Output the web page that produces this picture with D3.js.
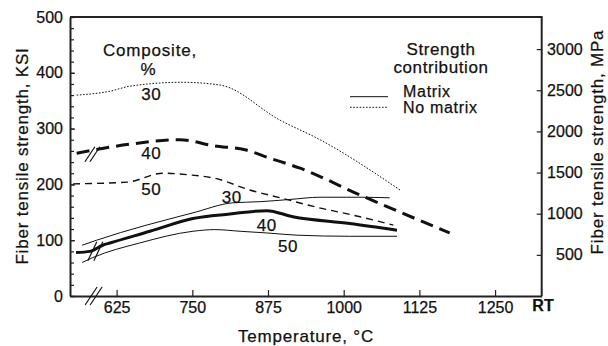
<!DOCTYPE html>
<html>
<head>
<meta charset="utf-8">
<script src="https://cdn.jsdelivr.net/npm/d3@7"></script>
<style>
  body { margin: 0; background: #fff; }
  svg text { font-family: "Liberation Sans", Arial, Helvetica, sans-serif; fill: #111; stroke: #111; stroke-width: 0.25px; }
</style>
</head>
<body>
<svg id="chart" width="608" height="346"></svg>
<script>
// values: temperature (°C) vs fiber tensile strength (KSI)
var tempTicks = [625, 750, 875, 1000, 1125, 1250];
var ksiTicks = [0, 100, 200, 300, 400, 500];
var ksiMinorTicks = d3.range(0, 501, 20);
var mpaTicks = [500, 1000, 1500, 2000, 2500, 3000];

// no matrix contribution
var temp30NoMatrix = [559, 614, 647, 733, 796, 895, 961, 1093];
var ksi30NoMatrix  = [360, 367, 376, 383, 378, 315, 280, 190];
var temp40NoMatrix = [559, 647, 729, 787, 837, 878, 928, 1027, 1175];
var ksi40NoMatrix  = [256, 272, 280, 269, 262, 247, 229, 181, 113];
var temp50NoMatrix = [553, 642, 701, 746, 787, 845, 895, 956, 1027, 1082];
var ksi50NoMatrix  = [201, 204, 220, 217, 211, 190, 176, 159, 142, 127];

// matrix contribution
var temp30Matrix = [568, 592, 751, 817, 862, 911, 961, 1027, 1076];
var ksi30Matrix  = [91, 100, 149, 167, 169, 173, 177, 177, 176];
var temp40Matrix = [558, 581, 602, 614, 680, 751, 812, 873, 916, 1010, 1088];
var ksi40Matrix  = [78, 80, 91, 95, 116, 139, 147, 153, 142, 130, 118];
var temp50Matrix = [568, 586, 663, 751, 787, 829, 873, 923, 1010, 1088];
var ksi50Matrix  = [60, 69, 95, 116, 119, 116, 113, 109, 107, 107];

var series = [
    {name: "30", t: temp30NoMatrix, k: ksi30NoMatrix, width: 1, dash: "1.6,1.6", label: [682, 362]},
    {name: "40", t: temp40NoMatrix, k: ksi40NoMatrix, width: 3, dash: "13,7", label: [682, 256]},
    {name: "50", t: temp50NoMatrix, k: ksi50NoMatrix, width: 1.4, dash: "7,5", label: [682, 192]},
    {name: "30", t: temp30Matrix, k: ksi30Matrix, width: 1, dash: null, label: [815, 177]},
    {name: "40", t: temp40Matrix, k: ksi40Matrix, width: 3, dash: null, label: [873, 128]},
    {name: "50", t: temp50Matrix, k: ksi50Matrix, width: 1, dash: null, label: [908, 89]}
];

function drawChart() {
    var svg = d3.select("#chart");
    var plotLeft = 70, plotRight = 541.7, plotTop = 17, plotBottom = 296;

    var x = d3.scaleLinear().domain([548, 1327]).range([plotLeft, plotRight]);
    var y = d3.scaleLinear().domain([0, 500]).range([plotBottom, plotTop]);
    var yMpa = d3.scaleLinear().domain([0, 3390]).range([plotBottom, plotTop]);

    // minor ticks on KSI axis
    svg.append("g")
        .attr("transform", "translate(" + plotLeft + ",0)")
        .call(d3.axisLeft(y).tickValues(ksiMinorTicks).tickSize(-4).tickFormat(""))
        .call(g => g.select(".domain").remove());

    var yAxis = svg.append("g")
        .attr("transform", "translate(" + plotLeft + ",0)")
        .call(d3.axisLeft(y).tickValues(ksiTicks).tickSize(-5).tickSizeOuter(0).tickPadding(7));
    yAxis.selectAll("text").attr("font-size", 16).attr("fill", "#111");

    var xAxis = svg.append("g")
        .attr("transform", "translate(0," + plotBottom + ")")
        .call(d3.axisBottom(x).tickValues(tempTicks).tickFormat(d3.format("d"))
            .tickSize(-6).tickSizeOuter(0).tickPadding(6));
    xAxis.selectAll("text").attr("font-size", 16).attr("fill", "#111");

    var mpaAxis = svg.append("g")
        .attr("transform", "translate(" + plotRight + ",0)")
        .call(d3.axisRight(yMpa).tickValues(mpaTicks).tickFormat(d3.format("d"))
            .tickSize(-5).tickSizeOuter(0));
    mpaAxis.selectAll("text").attr("font-size", 16).attr("fill", "#111")
        .attr("text-anchor", "end").attr("x", 41);
    mpaAxis.select(".domain").remove();

    svg.selectAll(".tick line").attr("stroke", "#222").attr("stroke-width", 1.2);
    svg.selectAll(".domain").attr("stroke", "#222").attr("stroke-width", 2);

    // frame: top and right edges
    svg.append("path")
        .attr("d", "M" + plotLeft + "," + plotTop + "H" + plotRight + "V" + plotBottom)
        .attr("fill", "none").attr("stroke", "#222").attr("stroke-width", 2);

    // curves
    var line = d3.line().curve(d3.curveMonotoneX);
    svg.append("g").selectAll("path")
        .data(series)
        .join("path")
        .attr("d", s => line(s.t.map((t, i) => [x(t), y(s.k[i])])))
        .attr("fill", "none")
        .attr("stroke", "#111")
        .attr("stroke-width", s => s.width)
        .attr("stroke-dasharray", s => s.dash);

    svg.append("g").selectAll("text")
        .data(series)
        .join("text")
        .attr("x", s => x(s.label[0]))
        .attr("y", s => y(s.label[1]))
        .attr("dy", "0.36em")
        .attr("text-anchor", "middle")
        .attr("font-size", 17)
        .attr("letter-spacing", 0.5)
        .text(s => s.name);

    // axis break marks
    var breaks = [
        {t: 587, k: 0, segs: [[-8.5, 9, 3.5, -9], [-3.5, 9, 8.5, -9]]},
        {t: 585, k: 254, segs: [[-7.5, 7.5, 2.5, -7.5], [-2.5, 7.5, 7.5, -7.5]]},
        {t: 589, k: 81, segs: [[-7, 10, 2, -9], [-1, 10, 8, -9]]}
    ];
    breaks.forEach(function (b) {
        b.segs.forEach(function (s) {
            svg.append("line")
                .attr("x1", x(b.t) + s[0]).attr("y1", y(b.k) + s[1])
                .attr("x2", x(b.t) + s[2]).attr("y2", y(b.k) + s[3])
                .attr("stroke", "#111").attr("stroke-width", 1.2);
        });
    });

    // titles
    svg.append("text")
        .attr("x", 543).attr("y", 311)
        .attr("text-anchor", "middle").attr("font-size", 16).attr("font-weight", "bold")
        .text("RT");

    svg.append("text")
        .attr("x", 306).attr("y", 342)
        .attr("text-anchor", "middle").attr("font-size", 17).attr("letter-spacing", 0.8)
        .text("Temperature, °C");

    svg.append("text")
        .attr("transform", "translate(28,156) rotate(-90)")
        .attr("text-anchor", "middle").attr("font-size", 17).attr("letter-spacing", 0.8)
        .text("Fiber tensile strength, KSI");

    svg.append("text")
        .attr("transform", "translate(603,142) rotate(-90)")
        .attr("text-anchor", "middle").attr("font-size", 17).attr("letter-spacing", 0.8)
        .text("Fiber tensile strength, MPa");

    svg.append("text")
        .attr("x", 150).attr("y", 56)
        .attr("text-anchor", "middle").attr("font-size", 17).attr("letter-spacing", 0.8)
        .text("Composite,");
    svg.append("text")
        .attr("x", 148).attr("y", 75)
        .attr("text-anchor", "middle").attr("font-size", 17)
        .text("%");

    // legend
    svg.append("text")
        .attr("x", 441).attr("y", 55)
        .attr("text-anchor", "middle").attr("font-size", 17).attr("letter-spacing", 0.6)
        .text("Strength");
    svg.append("text")
        .attr("x", 441).attr("y", 73)
        .attr("text-anchor", "middle").attr("font-size", 17).attr("letter-spacing", 0.6)
        .text("contribution");

    var legendItems = [
        {label: "Matrix", dash: null, lineY: 96.7, textY: 97},
        {label: "No matrix", dash: "1.6,1.6", lineY: 107.3, textY: 113}
    ];
    legendItems.forEach(function (d) {
        svg.append("line")
            .attr("x1", 350).attr("x2", 388)
            .attr("y1", d.lineY).attr("y2", d.lineY)
            .attr("stroke", "#111").attr("stroke-width", 1)
            .attr("stroke-dasharray", d.dash);
        svg.append("text")
            .attr("x", 403).attr("y", d.textY)
            .attr("font-size", 16).attr("letter-spacing", 0.7)
            .text(d.label);
    });
}

drawChart();
</script>
</body>
</html>
